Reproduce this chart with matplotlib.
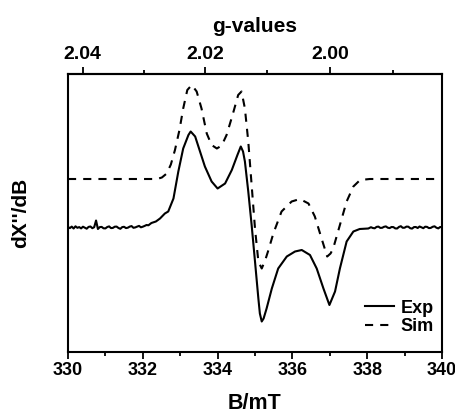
import numpy as np
import matplotlib.pyplot as plt

plt.rcParams['font.family'] = ['Liberation Sans', 'DejaVu Sans']
plt.rcParams['font.weight'] = 'bold'

# field (mT) and intensity (arb. units)
B_exp = [330.0, 330.05, 330.1, 330.15, 330.2, 330.25, 330.3, 330.35, 330.4, 330.45,
         330.5, 330.55, 330.6, 330.65, 330.7, 330.75, 330.8, 330.85, 330.9, 330.95,
         331.0, 331.05, 331.1, 331.15, 331.2, 331.25, 331.3, 331.35, 331.4, 331.45,
         331.5, 331.55, 331.6, 331.65, 331.7, 331.75, 331.8, 331.85, 331.9, 331.95,
         332.0, 332.05, 332.1, 332.15, 332.23, 332.35, 332.46, 332.59, 332.68, 332.82,
         332.95, 333.08, 333.22, 333.28, 333.40, 333.53, 333.66, 333.84, 334.00, 334.20,
         334.38, 334.53, 334.62, 334.68, 334.73, 334.82, 334.91, 335.00, 335.09, 335.13,
         335.18, 335.23, 335.31, 335.45, 335.62, 335.85, 336.07, 336.25, 336.47, 336.65,
         336.83, 336.99, 337.14, 337.27, 337.45, 337.63, 337.8, 338.03, 338.1, 338.15,
         338.2, 338.25, 338.3, 338.35, 338.4, 338.45, 338.5, 338.55, 338.6, 338.65,
         338.7, 338.75, 338.8, 338.85, 338.9, 338.95, 339.0, 339.05, 339.1, 339.15,
         339.2, 339.25, 339.3, 339.35, 339.4, 339.45, 339.5, 339.55, 339.6, 339.65,
         339.7, 339.75, 339.8, 339.85, 339.9, 339.95, 340.0]
I_exp = [0.5, -0.6, 0.9, -1.0, 1.2, -0.3, 0.4, -0.9, 0.8, -0.2,
         -1.2, 0.6, 1.0, -0.7, 0.3, 7.0, -1.5, 0.4, 0.6, -0.8,
         -0.9, 0.5, 1.1, -0.6, -0.4, 0.8, 0.9, -0.5, -1.3, 0.4,
         0.7, -0.6, -0.2, 0.9, 1.4, -0.3, 0.1, 0.9, 1.6, 0.2,
         0.8, 1.6, 2.5, 2.2, 4.5, 6.0, 9.0, 14.0, 16.0, 29.0,
         56.0, 79.0, 92.5, 96.0, 91.0, 76.0, 61.0, 46.0, 39.0, 44.0,
         57.5, 72.5, 81.0, 76.0, 66.0, 36.0, 2.5, -34.0, -71.0, -86.0,
         -94.0, -91.0, -81.0, -61.0, -41.0, -29.0, -24.0, -22.5, -27.5, -41.0,
         -61.0, -77.5, -64.0, -41.0, -14.0, -4.0, -1.5, -1.0, 0.3, -0.5,
         -0.8, 0.6, 0.9, -0.4, -0.3, 0.7, 1.1, -0.2, -0.6, 0.5,
         0.4, -0.9, -1.0, 0.6, 1.3, -0.3, -0.2, 0.9, 0.8, -0.7,
         -1.1, 0.4, 0.5, -0.5, 1.0, 0.2, -0.7, 0.8, 0.6, -0.6,
         -0.4, 0.7, 1.2, -0.2, -0.9, 0.5, 0.2]

B_sim = [330.0, 332.38, 332.51, 332.64, 332.75, 332.86, 332.98, 333.08, 333.19, 333.31,
         333.44, 333.57, 333.71, 333.84, 333.98, 334.11, 334.24, 334.40, 334.55, 334.64,
         334.73, 334.82, 334.91, 335.00, 335.09, 335.18, 335.27, 335.36, 335.49, 335.71,
         335.98, 336.20, 336.43, 336.60, 336.78, 336.93, 337.02, 337.09, 337.27, 337.45,
         337.63, 337.81, 338.07, 340.0]
I_sim = [48.5, 48.5, 50.0, 54.0, 63.0, 77.5, 97.5, 119.0, 137.5, 142.5,
         136.0, 119.0, 94.0, 82.5, 79.0, 82.0, 92.5, 112.5, 132.5, 136.0,
         119.0, 86.0, 42.5, -1.0, -34.0, -41.0, -33.0, -22.5, -6.0, 16.0,
         26.0, 28.5, 24.0, 11.0, -11.0, -29.0, -26.0, -21.0, 2.5, 26.0,
         41.0, 47.5, 48.5, 48.5]

g_major = [2.04, 2.02, 2.00]
g_minor = [2.03, 2.01, 1.99]
K = 674.0  # g * B (mT) for this microwave frequency

def B2g(b):
    b = np.asarray(b, dtype=float)
    return K / np.where(b == 0, 1e-9, b)

def g2B(g):
    g = np.asarray(g, dtype=float)
    return K / np.where(g == 0, 1e-9, g)

fig = plt.figure(figsize=(4.56, 4.16), dpi=100)
ax = fig.add_axes([68/456, 64/416, 374/456, 278/416])

ax.plot(B_exp, I_exp, color='black', lw=1.5, label='Exp')
ax.plot(B_sim, I_sim, color='black', lw=1.5, dashes=(3.9, 3.4), label='Sim')

ax.set_xlim(330, 340)
ax.set_ylim(-124.5, 153.5)
ax.set_xticks([330, 332, 334, 336, 338, 340])
ax.set_xticks([331, 333, 335, 337, 339], minor=True)
ax.set_yticks([])
ax.tick_params(axis='x', which='major', direction='out', length=5, width=1.3, labelsize=13, pad=2)
ax.tick_params(axis='x', which='minor', direction='out', length=3, width=1.3)
for s in ax.spines.values():
    s.set_linewidth(1.5)

ax.set_xlabel('B/mT', fontsize=15.5, fontweight='bold', labelpad=10)
ax.set_ylabel("dX''/dB", fontsize=15, fontweight='bold', labelpad=27)

top = ax.secondary_xaxis('top', functions=(B2g, g2B))
top.set_xticks(g_major)
top.set_xticks(g_minor, minor=True)
top.set_xticklabels(['%.2f' % g for g in g_major])
top.tick_params(axis='x', which='major', direction='out', length=5, width=1.3, labelsize=14, pad=3)
top.tick_params(axis='x', which='minor', direction='out', length=3, width=1.3)
top.spines['top'].set_linewidth(1.5)
top.set_xlabel('g-values', fontsize=15, fontweight='bold', labelpad=10)

ax.legend(loc='lower right', bbox_to_anchor=(0.978, 0.06), frameon=False,
          fontsize=13, handlelength=1.6, handletextpad=0.35, labelspacing=0.1,
          borderpad=0, borderaxespad=0)

plt.savefig('out.png', dpi=100)
